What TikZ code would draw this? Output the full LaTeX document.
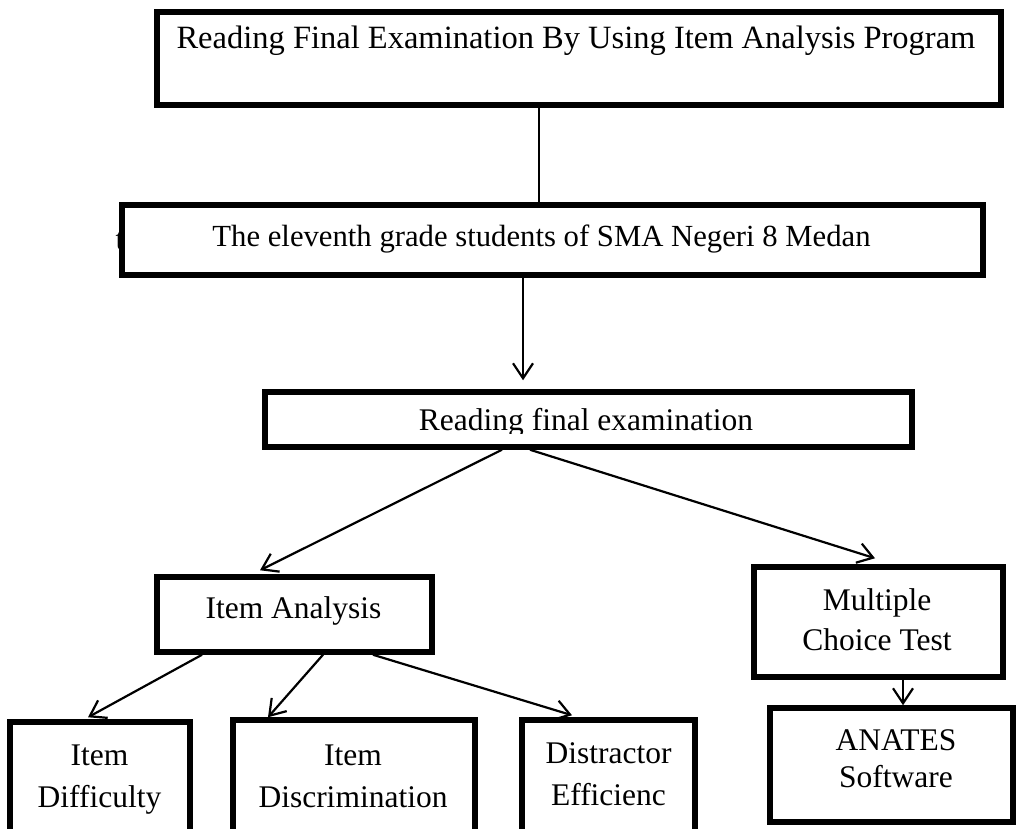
\documentclass[tikz,border=0pt]{standalone}
\usepackage{fontspec}
\setmainfont{Liberation Serif}
\usetikzlibrary{arrows.meta,positioning}

\tikzset{
	box/.style={draw, line width=5.5pt, fill=white, inner sep=0pt},
	txt/.style={font=\fontsize{31.5}{42}\selectfont, align=center, inner sep=0pt},
	ln/.style={line width=2.2pt},
	arr/.style={ln, -{Straight Barb[length=15pt,width=20pt]}}
}

\begin{document}
\begin{tikzpicture}[x=1pt,y=-1pt]
	\clip (0,0) rectangle (1017,828);
	\fill[white] (0,0) rectangle (1017,828);

	%upper part
	\node[txt, anchor=base east] (stub) at (124.5,249) {t};
	\node[box, minimum width=844, minimum height=93] (title) at (579,58.5) {};
	\node[txt, font=\fontsize{32.5}{42}\selectfont, anchor=base] (title-txt) at (576,48) {Reading Final Examination By Using Item Analysis Program};
	\node[box, minimum width=861, minimum height=70] (grade) at (552.5,240) {};
	\node[txt, font=\fontsize{30.7}{42}\selectfont, anchor=base] (grade-txt) at (541.5,246) {The eleventh grade students of SMA Negeri 8 Medan};

	\node[box, minimum width=647, minimum height=55] (rfe) at (588.5,419.5) {};
	\begin{scope}
		\clip ([xshift=3pt]rfe.north west) rectangle ([yshift=16pt]rfe.south east);
		\node[txt, anchor=base] (rfe-txt) at (586,430) {Reading final examination};
	\end{scope}

	%middle level
	\node[box, minimum width=275, minimum height=75] (ia) at (294.5,614.5) {};
	\node[txt, anchor=base] (ia-txt) at (293.5,618) {Item Analysis};
	\node[box, minimum width=249, minimum height=110] (mct) at (878.5,622) {};
	\node[txt, font=\fontsize{31.5}{40}\selectfont, anchor=base] (mct-txt) at (877,650) {Multiple\\Choice Test};

	%lower level
	\node[box, minimum width=243, minimum height=114] (anates) at (891.5,765) {};
	\node[txt, font=\fontsize{31.5}{37}\selectfont, anchor=base] (anates-txt) at (896,787) {ANATES\\Software};
	\node[box, minimum width=180, minimum height=158] (idiff) at (100,801) {};
	\node[txt, anchor=base] (idiff-txt) at (99.5,807) {Item\\Difficulty};
	\node[box, minimum width=242, minimum height=160] (idisc) at (354,800) {};
	\node[txt, anchor=base] (idisc-txt) at (353,807) {Item\\Discrimination};
	\node[box, minimum width=173, minimum height=160] (dist) at (608.5,800) {};
	\node[txt, anchor=base] (dist-txt) at (608.5,805) {Distractor\\Efficienc};

	%connectors
	\draw[ln] ([xshift=-40pt]title.south) -- ([xshift=-13.5pt]grade.north);
	\draw[arr, shorten >=9pt] ([xshift=-29.5pt]grade.south) -- ([xshift=-65.5pt]rfe.north);
	\draw[arr] ([xshift=-86.5pt]rfe.south) -- ([xshift=-34.5pt,yshift=4pt]ia.north);
	\draw[arr] ([xshift=-58.5pt]rfe.south) -- ([xshift=-3.5pt,yshift=6pt]mct.north);
	\draw[arr] ([xshift=24.5pt]mct.south) -- ([xshift=11.5pt]anates.north);
	\draw[arr] ([xshift=-92.5pt]ia.south) -- ([xshift=-12pt,yshift=2pt]idiff.north);
	\draw[arr] ([xshift=28.5pt]ia.south) -- ([xshift=-86pt]idisc.north);
	\draw[arr] ([xshift=78.5pt]ia.south) -- ([xshift=-36.5pt,yshift=2pt]dist.north);
\end{tikzpicture}
\end{document}
